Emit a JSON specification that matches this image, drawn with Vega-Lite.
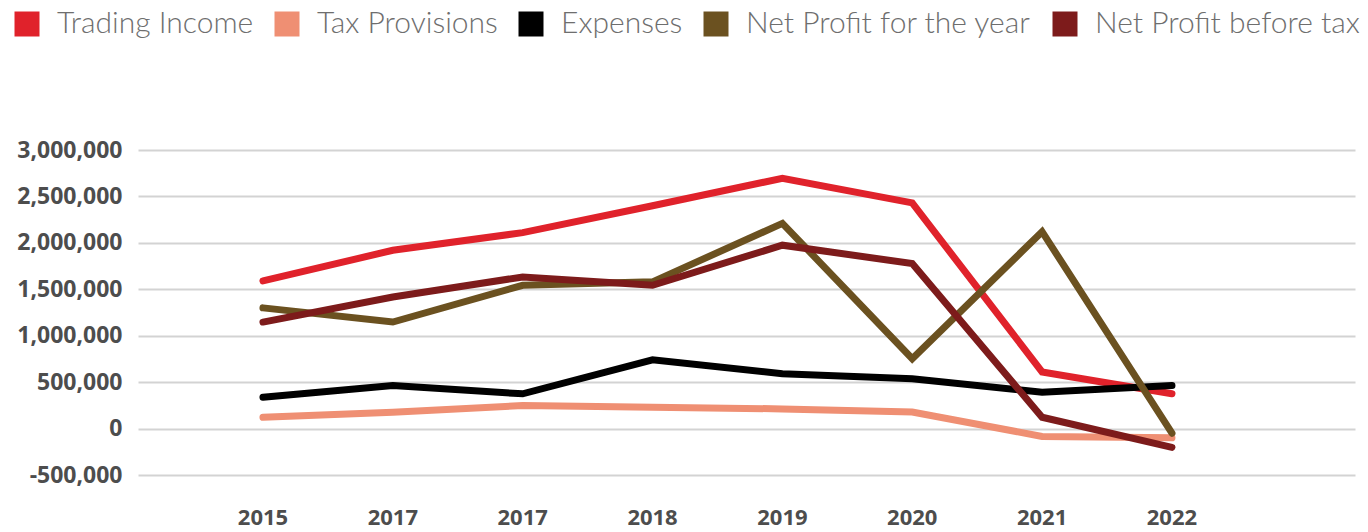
{
  "$schema": "https://vega.github.io/schema/vega-lite/v6.json",
  "description": "Trading income, tax provisions, expenses and net profit, 2015-2022.",
  "autosize": "none",
  "width": 1217,
  "height": 325,
  "padding": {"left": 138, "top": 150, "right": 13, "bottom": 57},
  "background": "white",
  "config": {
    "view": {"stroke": null},
    "font": "Open Sans"
  },
  "data": {
    "values": [
      {"year": "2015", "series": "Trading Income", "value": 1590000},
      {"year": "2017", "series": "Trading Income", "value": 1920000},
      {"year": "2017 ", "series": "Trading Income", "value": 2110000},
      {"year": "2018", "series": "Trading Income", "value": 2400000},
      {"year": "2019", "series": "Trading Income", "value": 2695000},
      {"year": "2020", "series": "Trading Income", "value": 2430000},
      {"year": "2021", "series": "Trading Income", "value": 610000},
      {"year": "2022", "series": "Trading Income", "value": 375000},
      {"year": "2015", "series": "Tax Provisions", "value": 122000},
      {"year": "2017", "series": "Tax Provisions", "value": 176000},
      {"year": "2017 ", "series": "Tax Provisions", "value": 248000},
      {"year": "2018", "series": "Tax Provisions", "value": 230000},
      {"year": "2019", "series": "Tax Provisions", "value": 212000},
      {"year": "2020", "series": "Tax Provisions", "value": 178000},
      {"year": "2021", "series": "Tax Provisions", "value": -85000},
      {"year": "2022", "series": "Tax Provisions", "value": -100000},
      {"year": "2015", "series": "Expenses", "value": 338000},
      {"year": "2017", "series": "Expenses", "value": 464000},
      {"year": "2017 ", "series": "Expenses", "value": 374000},
      {"year": "2018", "series": "Expenses", "value": 741000},
      {"year": "2019", "series": "Expenses", "value": 590000},
      {"year": "2020", "series": "Expenses", "value": 536000},
      {"year": "2021", "series": "Expenses", "value": 392000},
      {"year": "2022", "series": "Expenses", "value": 464000},
      {"year": "2015", "series": "Net Profit for the year", "value": 1300000},
      {"year": "2017", "series": "Net Profit for the year", "value": 1147000},
      {"year": "2017 ", "series": "Net Profit for the year", "value": 1543000},
      {"year": "2018", "series": "Net Profit for the year", "value": 1580000},
      {"year": "2019", "series": "Net Profit for the year", "value": 2210000},
      {"year": "2020", "series": "Net Profit for the year", "value": 752000},
      {"year": "2021", "series": "Net Profit for the year", "value": 2120000},
      {"year": "2022", "series": "Net Profit for the year", "value": -50000},
      {"year": "2015", "series": "Net Profit before tax", "value": 1147000},
      {"year": "2017", "series": "Net Profit before tax", "value": 1417000},
      {"year": "2017 ", "series": "Net Profit before tax", "value": 1633000},
      {"year": "2018", "series": "Net Profit before tax", "value": 1543000},
      {"year": "2019", "series": "Net Profit before tax", "value": 1975000},
      {"year": "2020", "series": "Net Profit before tax", "value": 1777000},
      {"year": "2021", "series": "Net Profit before tax", "value": 122000},
      {"year": "2022", "series": "Net Profit before tax", "value": -202000}
    ]
  },
  "mark": {"type": "line", "strokeWidth": 7, "strokeCap": "round", "strokeJoin": "miter"},
  "encoding": {
    "x": {
      "field": "year",
      "type": "ordinal",
      "sort": null,
      "bandPosition": 0.5,
      "scale": {"type": "band", "paddingInner": 0, "paddingOuter": 0.686, "align": 0.337},
      "axis": {
        "title": null,
        "domain": false,
        "ticks": false,
        "grid": false,
        "labelAngle": 0,
        "labelExpr": "trim(datum.label)",
        "labelFont": "Open Sans",
        "labelFontSize": 22,
        "labelFontWeight": "bold",
        "labelColor": "#4d4d4d",
        "labelPadding": 32
      }
    },
    "y": {
      "field": "value",
      "type": "quantitative",
      "scale": {"domain": [-500000, 3000000], "nice": false, "zero": false},
      "axis": {
        "title": null,
        "values": [-500000, 0, 500000, 1000000, 1500000, 2000000, 2500000, 3000000],
        "format": ",.0f",
        "labelExpr": "replace(datum.label, '\u2212', '-')",
        "domain": false,
        "ticks": false,
        "gridColor": "#d3d3d3",
        "gridWidth": 2,
        "labelFont": "Open Sans",
        "labelFontSize": 23,
        "labelFontWeight": "bold",
        "labelColor": "#4d4d4d",
        "labelPadding": 16
      }
    },
    "color": {
      "field": "series",
      "type": "nominal",
      "sort": null,
      "scale": {
        "domain": ["Trading Income", "Tax Provisions", "Expenses", "Net Profit for the year", "Net Profit before tax"],
        "range": ["#e0222b", "#ef8f73", "#000000", "#6b5120", "#7d1b1b"]
      },
      "legend": {
        "title": null,
        "orient": "none",
        "legendX": -126,
        "legendY": -141,
        "direction": "horizontal",
        "padding": 0,
        "symbolType": "square",
        "symbolSize": 625,
        "symbolStrokeWidth": 0,
        "labelFont": "Lato",
        "labelFontSize": 30,
        "labelFontWeight": 300,
        "labelColor": "#6e6e6e",
        "labelOffset": 15,
        "columnPadding": 18,
        "labelLimit": 400,
        "encode": {
          "symbols": {"update": {"fill": {"scale": "color", "field": "value"}, "fillOpacity": {"value": 1}}}
        }
      }
    }
  }
}
